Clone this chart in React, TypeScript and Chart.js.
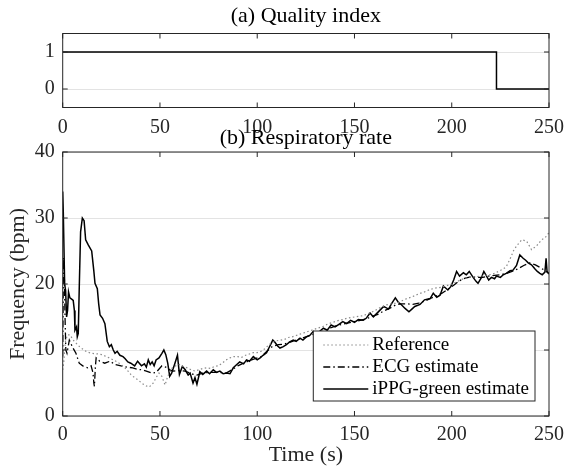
import { useEffect, useRef } from 'react';
import { Chart, registerables } from 'chart.js';

Chart.register(...registerables);

const FONT = '"Liberation Serif", "Times New Roman", Times, serif';

// ---- axis ticks ----
const timeTicks = [0, 50, 100, 150, 200, 250];
const qualityTicks = [0, 1];
const freqTicks = [0, 10, 20, 30, 40];

// ---- labels ----
const panelTitles = ['(a) Quality index', '(b) Respiratory rate'];
const seriesLabels = ['Reference', 'ECG estimate', 'iPPG-green estimate'];

// ---- data: [time (s), value] ----
const qualityIndex: [number, number][] = [[0, 1], [223, 1], [223, 0], [250, 0]];

const referenceRate: [number, number][] = [
  [0, 7], [0.5, 8], [1, 10], [1.5, 11.5], [2.5, 12.3], [3.7, 12.3], [5.7, 11.4], [7, 11], [9, 10.4], [11, 10],
  [12.5, 9.7], [15, 9.5], [18, 9.4], [20, 9.3], [22.6, 9], [26, 8.5], [28, 8.2], [30, 7.8], [32, 7.3], [33.6, 6.8],
  [35, 6.3], [37, 5.8], [39, 5.4], [40.6, 5], [42.5, 4.6], [44.5, 4.4], [46.6, 5], [48, 5.8], [49.5, 6.5], [51, 6],
  [52.6, 4.7], [54, 6], [56, 7.2], [58, 7.6], [60, 7.8], [62, 7.5], [64, 7.3], [66, 7], [68, 6.8], [70, 7],
  [72, 7.2], [74, 7.3], [76, 7.2], [78, 7.5], [80, 7.6], [82, 8], [84, 8.5], [86, 8.8], [88, 9], [90, 9],
  [92, 8.9], [94, 9.2], [96, 9.4], [98, 9.6], [100, 9.6], [102, 9.8], [104, 10.2], [106, 10.8], [108, 11.2], [110, 11.4],
  [112, 11.5], [114, 11.6], [116, 11.9], [118, 12], [120, 12.2], [122, 12.4], [124, 12.6], [126, 12.8], [128, 13], [130, 13.2],
  [132, 13.4], [134, 13.6], [136, 13.9], [138, 14.1], [140, 14.3], [142, 14.5], [144, 14.6], [146, 14.8], [148, 14.9], [150, 15],
  [152, 15.1], [154.5, 15.2], [157, 15.5], [160, 15.9], [163, 16.4], [166, 16.8], [169, 17], [171.7, 17.1], [174, 17.4], [177, 17.8],
  [180, 18.1], [183, 18.5], [186, 18.8], [189, 19.2], [192, 19.4], [195, 19.5], [197, 19.7], [200, 20], [203, 20.4], [206, 20.8],
  [209, 21], [212, 21.1], [215, 21.2], [217, 21.3], [219.5, 21.4], [222, 21.6], [224, 21.9], [226, 22.2], [228, 22.6], [230, 23.8],
  [232, 25.2], [234, 26], [236, 26.7], [238.5, 26.5], [241, 25.2], [243.7, 25.8], [246.2, 26.7], [248, 27], [250, 27.8],
];

const ecgEstimate: [number, number][] = [
  [0, 9], [0.4, 24], [0.8, 22], [1.2, 15], [1.6, 10], [2.2, 9.5], [3.4, 11.5], [5.1, 10.4], [6.8, 9.5], [8.5, 8],
  [10.3, 7.6], [12.9, 7.3], [14.6, 7.6], [15.6, 6.5], [16, 5], [16.3, 4.5], [16.8, 7.5], [17.2, 8.8], [19, 8.3], [21.6, 8],
  [24.3, 8.3], [26.9, 7.8], [30, 7.6], [33, 7.4], [36, 7.3], [38, 7.1], [40.6, 7], [43, 6.8], [46, 6.5], [48, 6.6],
  [51, 7.6], [53, 7.4], [55, 7], [57, 6.8], [60, 6.9], [63, 6.8], [66, 6.4], [69, 6.2], [72, 6.5], [75, 6.6],
  [78, 6.6], [81, 6.6], [84, 6.5], [87, 7], [90, 7.6], [93, 8], [96, 8.4], [99, 8.7], [102, 9], [105, 9.8],
  [108, 10.6], [111, 10.8], [114, 10.9], [117, 11.2], [120, 11.5], [123, 11.8], [126, 12.1], [129, 12.4], [132, 12.6], [135, 13],
  [138, 13.4], [141, 13.7], [144, 13.9], [147, 14.1], [150, 14.3], [153, 14.5], [156, 14.7], [159, 15.1], [162, 15.4], [165, 15.9],
  [168, 16.3], [171, 16.8], [174, 17], [177, 17], [180, 16.9], [183, 17.1], [186, 17.4], [189, 17.8], [192, 18.2], [195, 18.6],
  [198, 19.2], [201, 19.8], [204, 20.5], [207, 20.9], [210, 21.1], [213, 21], [216, 21], [219, 21.2], [222, 21.3], [225, 21.4],
  [228, 21.6], [231, 21.9], [234, 22.3], [237, 22.8], [240, 23.2], [243, 22.9], [246, 22.4], [248, 22], [250, 21.6],
];

const ippgGreenEstimate: [number, number][] = [
  [0, 34], [0.3, 31], [1, 20], [1.5, 19], [2, 15], [2.5, 16], [3, 18.8], [3.7, 17.9], [4.6, 17.7], [5.4, 17.5],
  [6, 16], [6.3, 13], [7.1, 13.5], [7.5, 12], [8, 12.5], [8.5, 19.3], [9.2, 27.9], [10.1, 30], [11, 29.6], [11.8, 26.7],
  [13.2, 25.9], [14.9, 25], [16, 22], [16.6, 20.1], [17.8, 19.3], [18.5, 17], [19.2, 15.3], [20.5, 14.8], [21.7, 14], [22.9, 11.3],
  [24, 10.5], [25, 10.8], [26, 10], [26.9, 9.5], [28, 9.8], [29.4, 9.2], [31, 9], [32, 8.7], [33.5, 8.2], [35, 8],
  [37, 7.6], [38.5, 8.3], [40.5, 7.6], [42, 7.9], [43, 7.4], [44, 8.5], [45, 7.8], [46, 8.2], [47, 7.6], [48, 8.5],
  [49.5, 8.8], [51, 9.5], [52, 10], [53, 9.3], [54, 8], [55, 6], [56, 6.5], [57.5, 7.8], [59, 9.2], [60, 6.3],
  [61.5, 7.5], [63, 7], [64.5, 6.2], [65.5, 6.5], [67, 5], [68, 5.8], [69, 4.8], [70.5, 6.7], [72, 6.3], [74, 6.8],
  [75.5, 6.4], [77.4, 7], [79, 6.6], [80.8, 6.8], [82.5, 6.4], [84.3, 6.5], [86, 6.4], [87.7, 7.3], [89.5, 7.8], [91, 8.2],
  [93, 7.9], [94.5, 8.5], [96, 8.3], [98, 9], [100, 8.5], [101.5, 8.8], [103, 9.2], [104.8, 9.6], [106, 10.3], [107, 10.9],
  [108, 11.5], [109, 11.2], [110.5, 10.6], [111.7, 10.3], [113.4, 10.5], [115, 10.8], [116.5, 11.2], [118.5, 11.5], [120, 11.3], [122, 11.8],
  [123.5, 11.5], [125.4, 12], [127, 12.2], [128.8, 12.8], [130.5, 12.5], [132, 12.8], [134, 13.3], [136, 13], [138, 13.8], [140, 13.5],
  [142, 13.9], [144, 14.3], [146, 14], [148, 14.5], [150, 14.2], [152, 14.6], [154.5, 14.5], [156, 14.8], [158, 15.6], [159.7, 15],
  [161, 15.4], [163, 16], [165, 16.6], [167.5, 16.2], [169, 17], [171, 17.9], [172.6, 17.2], [174, 16.9], [176, 16.3], [178, 15.8],
  [179.5, 16.2], [181, 16.6], [183.7, 16.9], [186, 17.6], [188.9, 17.8], [190.5, 18.6], [192.3, 18], [194, 18.3], [195.7, 19.7], [198, 19.1],
  [199.5, 19.6], [201, 20.6], [202.5, 21.9], [204, 21.2], [206, 21.7], [207.5, 21.4], [209, 21.9], [211, 21], [212.5, 20.4], [213.5, 20.1],
  [215.3, 21], [216.5, 21.9], [217.9, 21.2], [219, 20.6], [220.4, 21], [222, 20.8], [223, 21.2], [225, 21], [226.5, 21.4], [228, 21.6],
  [230, 22], [231.5, 22.1], [233.3, 22.8], [235, 24.4], [236.7, 23.9], [238, 23.6], [239.3, 23.2], [241, 22.9], [242.7, 22.3], [244, 21.9],
  [245.3, 21.6], [246.5, 21.4], [247.9, 21.8], [248.5, 23.9], [249, 21.9], [250, 21.5],
];

const toXY = (pairs: [number, number][]) => pairs.map(([x, y]) => ({ x, y }));

// Box around the axes, inward ticks on all four sides, and panel title
const framePlugin = {
  id: 'frame',
  afterDatasetsDraw(chart: any, _args: any, opts: any) {
    const { ctx, chartArea: a } = chart;
    const xs = chart.scales.x;
    const ys = chart.scales.y;
    const L = 5;
    ctx.save();
    ctx.strokeStyle = '#262626';
    ctx.lineWidth = 1;
    ctx.beginPath();
    xs.ticks.forEach((t: any) => {
      const p = xs.getPixelForValue(t.value);
      ctx.moveTo(p, a.bottom);
      ctx.lineTo(p, a.bottom - L);
      ctx.moveTo(p, a.top);
      ctx.lineTo(p, a.top + L);
    });
    ys.ticks.forEach((t: any) => {
      const p = ys.getPixelForValue(t.value);
      ctx.moveTo(a.left, p);
      ctx.lineTo(a.left + L, p);
      ctx.moveTo(a.right, p);
      ctx.lineTo(a.right - L, p);
    });
    ctx.stroke();
    ctx.strokeRect(a.left, a.top, a.right - a.left, a.bottom - a.top);
    if (opts && opts.title) {
      ctx.fillStyle = '#000';
      ctx.font = `22px ${FONT}`;
      ctx.textAlign = 'center';
      ctx.textBaseline = 'middle';
      ctx.fillText(opts.title, (a.left + a.right) / 2, opts.titleY);
    }
    ctx.restore();
  },
};

// Boxed legend inside the plot area (lower right)
const boxLegendPlugin = {
  id: 'boxLegend',
  afterDraw(chart: any, _args: any, opts: any) {
    if (!opts || !opts.enabled) return;
    const { ctx, chartArea: a } = chart;
    const ds = chart.data.datasets;
    ctx.save();
    ctx.font = `${opts.fontSize}px ${FONT}`;
    let maxW = 0;
    ds.forEach((d: any) => { maxW = Math.max(maxW, ctx.measureText(d.label).width); });
    const sample = 45;
    const w = 10 + sample + 4 + maxW + 6;
    const h = opts.rowHeight * ds.length + 4;
    const right = a.right - opts.marginRight;
    const bottom = a.bottom - opts.marginBottom;
    const left = right - w;
    const top = bottom - h;
    ctx.fillStyle = '#fff';
    ctx.fillRect(left, top, w, h);
    ctx.strokeStyle = '#262626';
    ctx.lineWidth = 1;
    ctx.strokeRect(left, top, w, h);
    ds.forEach((d: any, i: number) => {
      const cy = top + 3 + opts.rowHeight * i + opts.rowHeight / 2;
      ctx.save();
      ctx.strokeStyle = d.borderColor;
      ctx.lineWidth = d.borderWidth;
      ctx.setLineDash(d.borderDash || []);
      ctx.beginPath();
      ctx.moveTo(left + 10, cy);
      ctx.lineTo(left + 10 + sample, cy);
      ctx.stroke();
      ctx.restore();
      ctx.fillStyle = '#000';
      ctx.textAlign = 'left';
      ctx.textBaseline = 'middle';
      ctx.fillText(d.label, left + 10 + sample + 4, cy);
    });
    ctx.restore();
  },
};

const tickFont = { family: FONT, size: 20 };
const titleFont = { family: FONT, size: 22 };

const fitX = (h: number) => (s: any) => {
  s.height = h;
  s.paddingLeft = 0;
  s.paddingRight = 0;
};
const fitY = (w: number) => (s: any) => {
  s.width = w;
  s.paddingTop = 0;
  s.paddingBottom = 0;
};

export default function App() {
  const topRef = useRef<HTMLCanvasElement | null>(null);
  const botRef = useRef<HTMLCanvasElement | null>(null);

  useEffect(() => {
    if (!topRef.current || !botRef.current) return;

    const top = new Chart(topRef.current, {
      type: 'line',
      data: {
        datasets: [
          {
            label: 'Quality index',
            data: toXY(qualityIndex),
            borderColor: '#000',
            borderWidth: 1.5,
            pointRadius: 0,
            tension: 0,
          },
        ],
      },
      options: {
        responsive: false,
        animation: false,
        events: [],
        layout: { padding: { top: 33.5, right: 16, left: 0, bottom: 0 } },
        plugins: {
          legend: { display: false },
          tooltip: { enabled: false },
          frame: { title: panelTitles[0], titleY: 16 },
          boxLegend: { enabled: false },
        } as any,
        scales: {
          x: {
            type: 'linear',
            min: 0,
            max: 250,
            afterBuildTicks: (s: any) => { s.ticks = timeTicks.map((v) => ({ value: v })); },
            afterFit: fitX(32.5),
            grid: { display: false, drawTicks: false },
            border: { display: false },
            ticks: { font: tickFont, color: '#262626', padding: 8.5, maxRotation: 0, autoSkip: false },
          },
          y: {
            type: 'linear',
            min: -0.5,
            max: 1.5,
            afterBuildTicks: (s: any) => { s.ticks = qualityTicks.map((v) => ({ value: v })); },
            afterFit: fitY(62.7),
            grid: { color: '#e3e3e3', drawTicks: false, lineWidth: 1 },
            border: { display: false },
            ticks: { font: tickFont, color: '#262626', padding: 8 },
          },
        },
      },
      plugins: [framePlugin, boxLegendPlugin],
    });

    const bottom = new Chart(botRef.current, {
      type: 'line',
      data: {
        datasets: [
          {
            label: seriesLabels[0],
            data: toXY(referenceRate),
            borderColor: '#8a8a8a',
            borderWidth: 1.2,
            borderDash: [1.5, 2.5],
            pointRadius: 0,
            tension: 0,
          },
          {
            label: seriesLabels[1],
            data: toXY(ecgEstimate),
            borderColor: '#000',
            borderWidth: 1.3,
            borderDash: [7, 3, 1.5, 3],
            pointRadius: 0,
            tension: 0,
          },
          {
            label: seriesLabels[2],
            data: toXY(ippgGreenEstimate),
            borderColor: '#000',
            borderWidth: 1.5,
            pointRadius: 0,
            tension: 0,
          },
        ],
      },
      options: {
        responsive: false,
        animation: false,
        events: [],
        layout: { padding: { top: 27, right: 16, left: 0, bottom: 0 } },
        plugins: {
          legend: { display: false },
          tooltip: { enabled: false },
          frame: { title: panelTitles[1], titleY: 13 },
          boxLegend: { enabled: true, fontSize: 19, rowHeight: 22, marginRight: 14, marginBottom: 15 },
        } as any,
        scales: {
          x: {
            type: 'linear',
            min: 0,
            max: 250,
            afterBuildTicks: (s: any) => { s.ticks = timeTicks.map((v) => ({ value: v })); },
            afterFit: fitX(52),
            grid: { display: false, drawTicks: false },
            border: { display: false },
            ticks: { font: tickFont, color: '#262626', padding: 7, maxRotation: 0, autoSkip: false },
            title: { display: true, text: 'Time (s)', font: titleFont, color: '#262626', padding: { top: 0, bottom: 0 } },
          },
          y: {
            type: 'linear',
            min: 0,
            max: 40,
            afterBuildTicks: (s: any) => { s.ticks = freqTicks.map((v) => ({ value: v })); },
            afterFit: fitY(62.7),
            grid: { color: '#e3e3e3', drawTicks: false, lineWidth: 1 },
            border: { display: false },
            ticks: { font: tickFont, color: '#262626', padding: 8 },
            title: { display: true, text: 'Frequency (bpm)', font: titleFont, color: '#262626', padding: { top: 4.8, bottom: 0 } },
          },
        },
      },
      plugins: [framePlugin, boxLegendPlugin],
    });

    return () => {
      top.destroy();
      bottom.destroy();
    };
  }, []);

  return (
    <div style={{ position: 'fixed', left: 0, top: 0, width: 565, height: 468, background: '#fff', overflow: 'hidden' }}>
      <canvas ref={topRef} width={565} height={140} style={{ position: 'absolute', left: 0, top: 0 }} />
      <canvas ref={botRef} width={565} height={343} style={{ position: 'absolute', left: 0, top: 125 }} />
    </div>
  );
}
